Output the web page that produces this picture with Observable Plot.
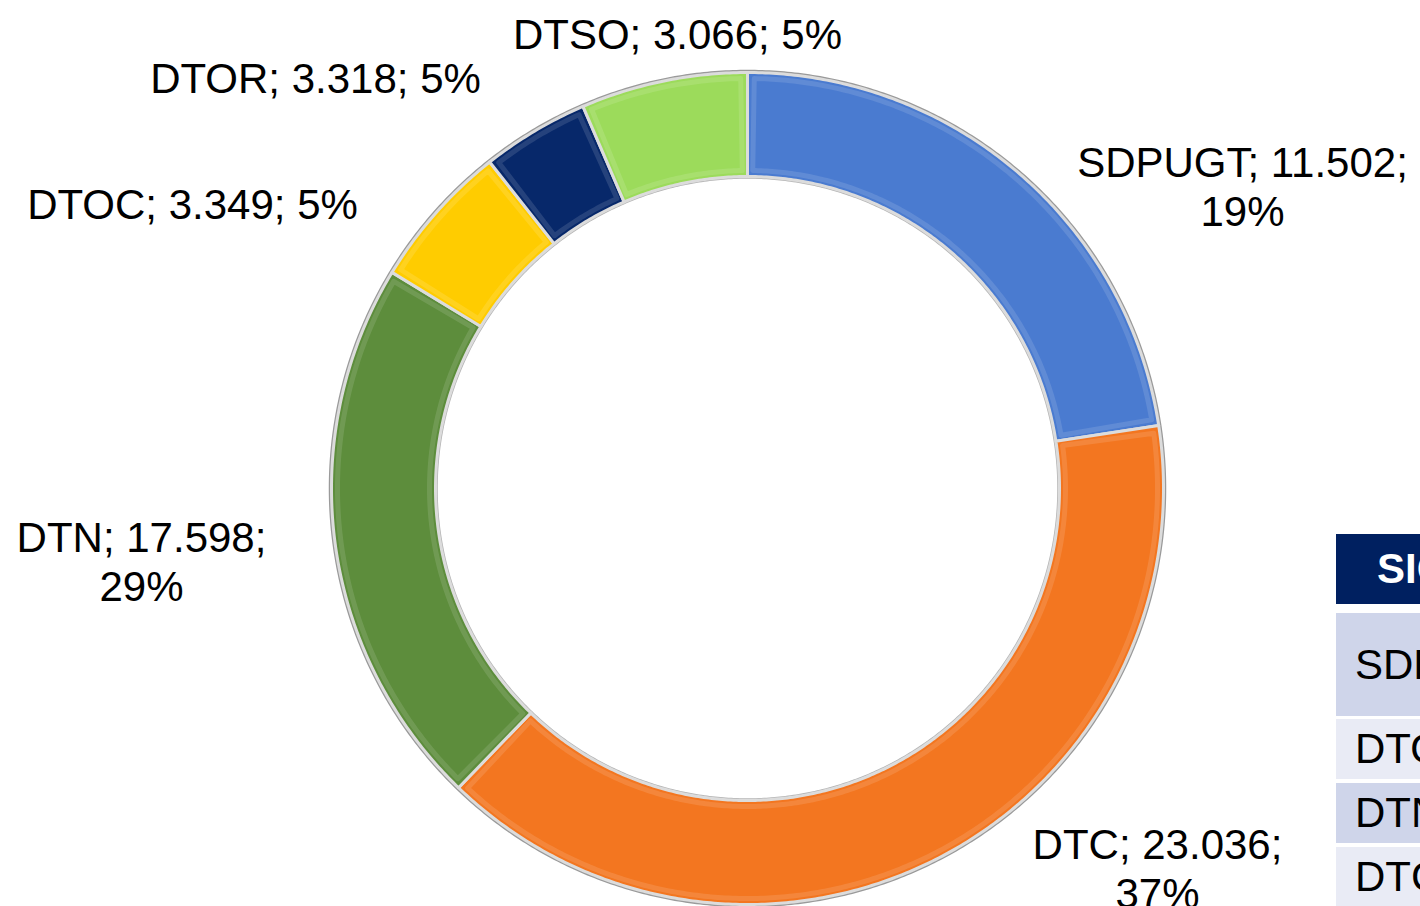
<!DOCTYPE html>
<html>
<head>
<meta charset="utf-8">
<script src="https://cdn.jsdelivr.net/npm/d3@7"></script>
<script src="https://cdn.jsdelivr.net/npm/@observablehq/plot@0.6"></script>
<style>
  html, body { margin: 0; padding: 0; background: #fff; width: 1420px; height: 906px; overflow: hidden; }
  #chart { position: absolute; left: 0; top: 0; }
  .tbl { position: absolute; left: 1336px; width: 200px; font-family: "Liberation Sans", Arial, sans-serif; font-size: 42px; box-sizing: border-box; white-space: nowrap; display: flex; align-items: center; }
</style>
</head>
<body>
<div id="chart"></div>
<div id="table"></div>
<script>
// ---- data ----
const names = ["SDPUGT", "DTC", "DTN", "DTOC", "DTOR", "DTSO"];
const values = [11502, 23036, 17598, 3349, 3318, 3066];
const percents = [19, 37, 29, 5, 5, 5];
// sweep of each slice (degrees) as drawn in the reference
const arcDegrees = [81.3, 142.7, 77.3, 20.4, 15.0, 23.3];
const colors = ["#4A7BD0", "#F37620", "#5D8D3C", "#FFCC00", "#07286A", "#9CDB5B"];

// table (partly visible at the right edge)
const tableHeader = "SIGLA";
const tableRows = ["SDPUGT", "DTOC", "DTN", "DTC"];

// ---- layout ----
const W = 1420, H = 906;
const cx = 747, cy = 488;          // donut centre in pixels
const R = 416, r = 312;            // outer / inner radius
const labelLayout = [              // centre x, baseline of last line (pixels), wrap
  {px: 1242, py: 225, wrap: true},
  {px: 1157, py: 907, wrap: true},
  {px: 141, py: 600, wrap: true},
  {px: 192, py: 218, wrap: false},
  {px: 315, py: 92, wrap: false},
  {px: 677, py: 48, wrap: false}
];

const fmt = d3.formatLocale({decimal: ",", thousands: ".", grouping: [3], currency: ["", ""]}).format(",d");

// build ring polygons
function arcPoints(a0, a1, rad, reverse) {
  const steps = Math.max(2, Math.ceil((a1 - a0) / 0.5));
  const out = [];
  for (let k = 0; k <= steps; k++) {
    const t = reverse ? steps - k : k;
    const a = (a0 + (a1 - a0) * t / steps) * Math.PI / 180;
    out.push([rad * Math.sin(a), rad * Math.cos(a)]);
  }
  return out;
}
function slicePolys(ro, ri, inset) {
  const rows = [];
  let start = 0;
  names.forEach((name, i) => {
    const a0 = start, a1 = start + arcDegrees[i];
    start = a1;
    const da = inset ? (inset / ((ro + ri) / 2)) * 180 / Math.PI : 0;
    const pts = arcPoints(a0 + da, a1 - da, ro - inset, false).concat(arcPoints(a0 + da, a1 - da, ri + inset, true));
    pts.push(pts[0]);
    pts.forEach(([x, y]) => rows.push({name, x, y}));
  });
  return rows;
}
const ring = slicePolys(R, r, 0);
const bevel = slicePolys(R, r, 6);
const edgeOuter = arcPoints(0, 360, R + 1.5, false).map(([x, y]) => ({x, y}));
const edgeInner = arcPoints(0, 360, r - 1.5, false).map(([x, y]) => ({x, y}));

const labels = names.map((name, i) => ({
  x: labelLayout[i].px - cx,
  y: cy - labelLayout[i].py,
  text: `${name}; ${fmt(values[i])};${labelLayout[i].wrap ? "\n" : " "}${percents[i]}%`
}));

const plot = Plot.plot({
  width: W, height: H,
  margin: 0,
  x: {domain: [-cx, W - cx], axis: null},
  y: {domain: [-(H - cy), cy], axis: null},
  color: {domain: names, range: colors},
  style: {fontFamily: '"Liberation Sans", Arial, sans-serif', background: "transparent"},
  marks: [
    Plot.line(edgeOuter, {x: "x", y: "y", stroke: "#9a9a9a", strokeWidth: 2.5}),
    Plot.line(edgeInner, {x: "x", y: "y", stroke: "#b5b5b5", strokeWidth: 1.5}),
    Plot.line(ring, {x: "x", y: "y", z: "name", fill: "name", stroke: "#dcdcdc", strokeWidth: 3, strokeLinejoin: "round"}),
    Plot.line(bevel, {x: "x", y: "y", z: "name", stroke: "#ffffff", strokeOpacity: 0.12, strokeWidth: 5, fill: "none", strokeLinejoin: "round"}),
    Plot.text(labels, {x: "x", y: "y", text: "text", fontSize: 42, lineAnchor: "bottom", lineHeight: 1.16, textAnchor: "middle", fill: "black"})
  ]
});
document.getElementById("chart").appendChild(plot);

// table
const rowsLayout = [
  {top: 534, h: 70, bg: "#002060", color: "#fff", bold: true, pad: 41},
  {top: 613, h: 103, bg: "#CFD5EA", color: "#000", bold: false, pad: 19},
  {top: 719, h: 60, bg: "#E9EBF5", color: "#000", bold: false, pad: 19},
  {top: 783, h: 60, bg: "#CFD5EA", color: "#000", bold: false, pad: 19},
  {top: 847, h: 60, bg: "#E9EBF5", color: "#000", bold: false, pad: 19}
];
const tbl = document.getElementById("table");
[tableHeader, ...tableRows].forEach((t, i) => {
  const L = rowsLayout[i];
  const d = document.createElement("div");
  d.className = "tbl";
  d.style.top = L.top + "px";
  d.style.height = L.h + "px";
  d.style.background = L.bg;
  d.style.color = L.color;
  d.style.fontWeight = L.bold ? "bold" : "normal";
  d.style.paddingLeft = L.pad + "px";
  d.textContent = t;
  tbl.appendChild(d);
});
</script>
</body>
</html>
